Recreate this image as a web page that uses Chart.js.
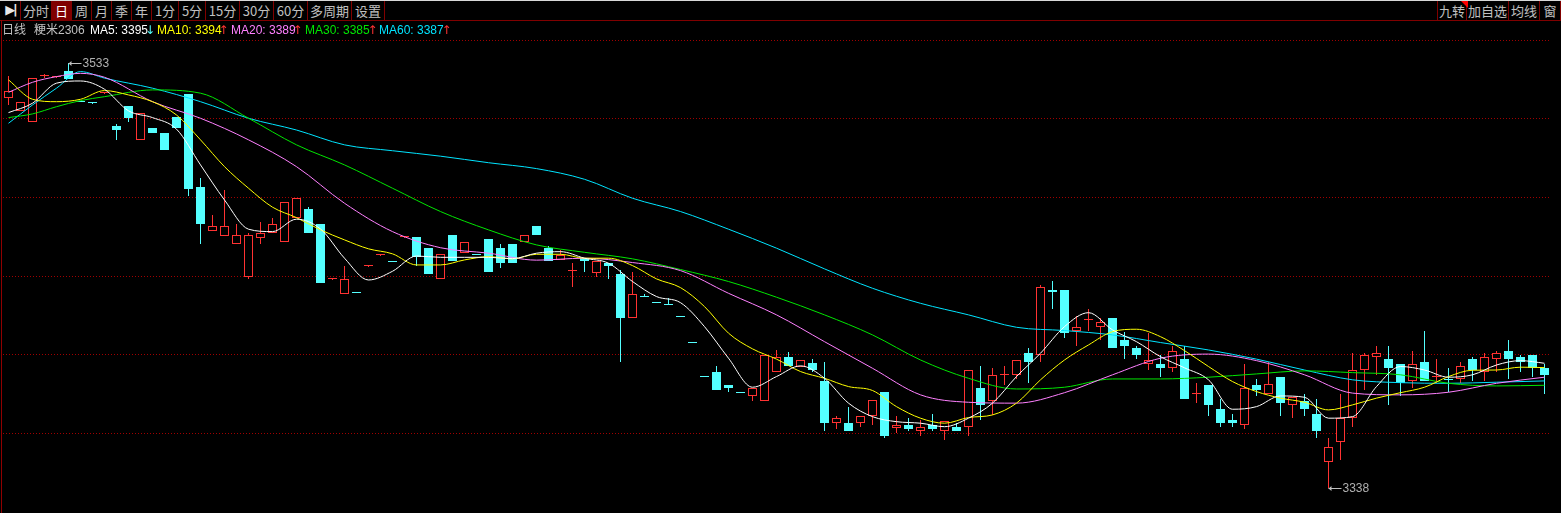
<!doctype html>
<html>

<head>
  <meta charset="utf-8">
  <script src="https://cdn.jsdelivr.net/npm/chart.js@4/dist/chart.umd.js"></script>
  <style>
    html, body { margin: 0; background: #000; overflow: hidden; width: 1561px; height: 513px; }
    canvas { position: absolute; left: 0; top: 0; }
    #topline { position: absolute; left: 0; top: 0; width: 1561px; height: 1px; background: #d8d8d8; }
    #bar { position: absolute; left: 0; top: 20px; width: 1561px; height: 1px; background: #800000; }
    #edge { position: absolute; left: 1px; top: 20px; width: 1px; height: 493px; background: #900000; }
    .btn { position: absolute; top: 1px; height: 19px; box-sizing: border-box; border-right: 1px solid #800000;
           color: #c0c0c0; text-align: center; font: 13px/19px "Noto Sans CJK SC", sans-serif; background: #000; }
    .btn.on { background: #800000; color: #fff; }
    .btn.icon { font: bold 13px/18px "DejaVu Sans", sans-serif; letter-spacing: -2px; color: #e8e8e8; }
    .leg { position: absolute; top: 22px; font: 12px/16px "Liberation Sans", "Noto Sans CJK SC", sans-serif; white-space: nowrap; }
    .leg.arrow { font: 12px/16px "DejaVu Sans", sans-serif; }
    #tri { position: absolute; left: 1461px; top: 1px; width: 0; height: 0; border-top: 7px solid #ff0000; border-left: 7px solid transparent; }
  </style>
</head>

<body>
  <canvas id="canvas" width="1561" height="513"></canvas>
  <div id="topline"></div>
  <div id="bar"></div>
  <div id="edge"></div>
  <div id="tools"></div>
  <div id="tri"></div>
  <div id="legend"></div>
  <script>
    const opens = [3517, 3511, 3506, 3527, 3526.5, 3529.5, 3515.5, 3515, 3519, 3504,
      3513, 3497.5, 3503, 3501, 3508, 3518.5, 3476, 3456, 3453.5, 3450,
      3435, 3452.5, 3455, 3451, 3462, 3466, 3459, 3434, 3427, 3428,
      3440, 3445, 3442, 3453, 3453, 3448, 3434, 3454, 3446, 3445.5,
      3452, 3448, 3450, 3451, 3458, 3448, 3442.5, 3437.5, 3443.5, 3436.5,
      3441, 3436, 3416, 3426, 3423.5, 3422.5, 3417, 3405, 3389.5, 3391,
      3385, 3382, 3380, 3378, 3391, 3398, 3393.5, 3395.5, 3387, 3368,
      3368, 3368, 3371, 3382, 3365.5, 3367, 3364, 3367, 3364, 3366,
      3366, 3384, 3378, 3390, 3390, 3400, 3399, 3429, 3429, 3410,
      3415, 3412, 3416, 3406, 3402, 3395, 3395, 3393, 3397, 3381,
      3385, 3374, 3369, 3367, 3385, 3381, 3389, 3376, 3378, 3372,
      3350, 3359, 3370, 3392, 3398, 3397, 3395, 3387, 3396, 3389,
      3388, 3388, 3397, 3391, 3397, 3401, 3398, 3399, 3393];
    const closes = [3520, 3515, 3526, 3527, 3526.5, 3525.5, 3515, 3514.5, 3519, 3502,
      3507.5, 3510, 3501, 3493, 3503, 3475, 3459, 3458, 3458, 3454,
      3454, 3455, 3459, 3469, 3471, 3455, 3432, 3434, 3434, 3427.5,
      3440, 3445, 3441.5, 3453, 3444, 3436, 3445.5, 3442, 3451, 3445,
      3437, 3441, 3441, 3454, 3454, 3442, 3445, 3437.5, 3442, 3442,
      3440, 3416, 3427, 3425.5, 3423, 3422, 3416.5, 3404.5, 3389, 3383,
      3384, 3381.5, 3384, 3399, 3398, 3394, 3396.5, 3392, 3368, 3370,
      3364, 3371, 3378.5, 3362, 3367, 3365, 3366, 3365, 3368.5, 3364,
      3392, 3376, 3390, 3390, 3396.5, 3396, 3430, 3428, 3409, 3412,
      3415, 3414, 3402, 3403, 3399, 3396.5, 3393, 3401, 3379, 3381,
      3376, 3368, 3368, 3384, 3383, 3385.5, 3377, 3379.5, 3374, 3364,
      3357, 3370, 3392, 3399, 3400, 3393, 3386, 3395, 3387, 3389,
      3387.5, 3394, 3392, 3398, 3400, 3397, 3396, 3393, 3390];
    const highs = [3527, 3515, 3526, 3528, 3526.5, 3533, 3515.5, 3515, 3519, 3505,
      3513, 3510, 3503, 3501, 3508, 3518.5, 3480, 3463, 3474.5, 3459,
      3455, 3460, 3462, 3469, 3471, 3467, 3459, 3434, 3440, 3428,
      3440, 3445, 3442, 3453, 3453, 3448, 3445.5, 3454, 3451, 3445.5,
      3452, 3450, 3450, 3454, 3458, 3449, 3447, 3441, 3443.5, 3442,
      3441, 3438, 3437, 3427, 3423.5, 3425, 3417, 3405, 3389.5, 3394,
      3385, 3382, 3384, 3399, 3401.5, 3400.5, 3396.5, 3397, 3396, 3371,
      3375, 3371, 3378.5, 3382, 3371, 3370, 3369, 3372, 3368.5, 3368,
      3392, 3394, 3393, 3394, 3396.5, 3402, 3431, 3433, 3429, 3417,
      3420, 3416, 3416, 3409.5, 3403, 3409, 3399, 3403, 3403, 3386,
      3385, 3379, 3372, 3395, 3388, 3396, 3389, 3379.5, 3381, 3379,
      3361, 3381, 3400, 3400, 3403, 3403, 3395, 3401, 3410, 3397,
      3393, 3396, 3398, 3400, 3401, 3406, 3399, 3399, 3395];
    const lows = [3513.5, 3511, 3506, 3526, 3526.5, 3525.5, 3515, 3514, 3519, 3497.5,
      3506, 3497.5, 3501, 3493, 3503, 3472, 3450, 3456, 3453.5, 3450,
      3434, 3450, 3455, 3451, 3462, 3455, 3432, 3434, 3427, 3427.5,
      3440, 3445, 3441.5, 3453, 3440, 3436, 3434, 3442, 3446, 3445,
      3437, 3439, 3441, 3451, 3454, 3442, 3442.5, 3430, 3437, 3435,
      3434, 3396, 3416, 3425.5, 3423, 3422, 3416.5, 3404.5, 3389, 3383,
      3382, 3381.5, 3378, 3378, 3391, 3394, 3393.5, 3391, 3364, 3365,
      3364, 3366, 3367, 3361, 3363, 3364, 3362, 3364, 3360, 3364,
      3362, 3369, 3371.5, 3385, 3388, 3386, 3396, 3420, 3407, 3403,
      3410, 3406, 3402, 3397, 3397, 3392, 3389, 3391, 3379, 3377,
      3371, 3366, 3366, 3365, 3380, 3381, 3371, 3370, 3371, 3361,
      3338, 3351, 3366, 3383, 3390, 3376, 3380, 3384, 3387, 3386,
      3382, 3386, 3387, 3387, 3391, 3388, 3391, 3389, 3381];

    // moving averages are read at every 2nd candle (fast ones) or at the candles in slowIdx
    const fastIdx = Array.from({ length: 65 }, (_, k) => k * 2);
    const slowIdx = [0, 2, 4, 6, 8, 12, 16, 20, 24, 28, 32, 36, 40, 44, 48, 52, 56, 60, 64, 68, 72, 76,
      80, 84, 88, 92, 96, 100, 104, 108, 112, 116, 120, 124, 128];
    const ma5 = [3510.2, 3514.5, 3523.7, 3524.7, 3520.9, 3511, 3507.9, 3502.6, 3486.2, 3470.1, 3456.7, 3455.6, 3461.3,
      3456.8, 3443.4, 3433.4, 3437.4, 3444.4, 3443.8, 3443.8, 3443.8, 3443.2, 3445.7, 3446.4, 3443.4, 3441.1, 3432.7,
      3425.8, 3423, 3412, 3397.5, 3384.2, 3389.1, 3394, 3388.3, 3376.9, 3370.7, 3368.4, 3367.7, 3366.1, 3370, 3376.9,
      3389.1, 3399.8, 3412, 3418.4, 3410.5, 3405.1, 3398.2, 3393.1, 3387.6, 3374.1, 3375.3, 3380.2, 3379.6, 3370,
      3370.7, 3384.5, 3393.7, 3392.1, 3388.8, 3389.9, 3394.4, 3396.4, 3395.2];
    const ma10 = [3525.2, 3516.3, 3515.2, 3516.3, 3520.3, 3518.3, 3515.2, 3509.1, 3497.7, 3485.4, 3475.5, 3466.8, 3462,
      3456.4, 3451.8, 3447.7, 3445.4, 3440.3, 3440.3, 3442.6, 3444.1, 3443.1, 3445.2, 3445.2, 3443.4, 3443.4, 3440,
      3433.9, 3429.9, 3421.2, 3409, 3401.8, 3397.1, 3391.4, 3388.3, 3384.5, 3382.7, 3375.3, 3370, 3367.7, 3370.3,
      3371.5, 3376.9, 3387.6, 3396.7, 3403.6, 3409.7, 3410.8, 3407.4, 3401, 3393.7, 3386.8, 3382.2, 3379.2, 3377.3,
      3373.8, 3376.1, 3379.2, 3381.7, 3384.2, 3389.1, 3392, 3392.1, 3393.4, 3393.2];
    const ma20 = [3519.5, 3524.1, 3526.7, 3528.2, 3526.4, 3515.2, 3507.6, 3497.7, 3485.4, 3468.6, 3455.6, 3448.2, 3445.7,
      3442.5, 3443.4, 3441.4, 3437.7, 3427.3, 3417.4, 3405.1, 3392.9, 3380.7, 3377.3, 3376.9, 3381.7, 3389.9, 3397.5,
      3399.4, 3396.4, 3389.9, 3381.5, 3380.7, 3381.9, 3386, 3388.8];
    const ma30 = [3507.9, 3509.6, 3512.9, 3515.7, 3517.5, 3520.6, 3519.1, 3507.6, 3495.4, 3486.2, 3475.5, 3464.8, 3456.4,
      3449.5, 3446.1, 3443.1, 3438.2, 3432.7, 3425.5, 3417.4, 3408.2, 3396.7, 3388.3, 3383.4, 3384.2, 3388, 3388,
      3388.8, 3390.3, 3391.7, 3390.9, 3389.9, 3386, 3384.8, 3385.1];
    const ma60 = [3505.3, 3513.7, 3521.4, 3529, 3526, 3521.4, 3515.2, 3507.6, 3502.2, 3495.4, 3492.7, 3490.2, 3487.2,
      3484.5, 3479.6, 3470.9, 3464.8, 3456.7, 3448, 3438.5, 3429.6, 3422.7, 3417.4, 3411.7, 3410.2, 3408.2, 3404.7,
      3401.3, 3397.1, 3392.1, 3387.6, 3386.3, 3386, 3386.5, 3387.1];

    const gridTicks = [3543.5, 3507.5, 3471.3, 3435.1, 3399, 3362.8];
    const labels = opens.map((_, i) => i + 1);

    const RED = '#ff3232';
    const CYAN = '#54ffff';
    const isUp = (i) => closes[i] >= opens[i];
    const place = (idx, vals) => {
      const out = new Array(labels.length).fill(null);
      idx.forEach((p, k) => { out[p] = vals[k]; });
      return out;
    };
    const maLine = (label, idx, vals, color, order) => ({
      type: 'line', label, data: place(idx, vals), borderColor: color, borderWidth: 1,
      pointRadius: 0, cubicInterpolationMode: 'monotone', spanGaps: true, order
    });

    // snap candles to whole pixels so the 1px outlines stay sharp
    const snapBars = {
      id: 'snapBars',
      afterDatasetsUpdate(chart) {
        chart.getSortedVisibleDatasetMetas().forEach((meta) => {
          if (meta.type !== 'bar') return;
          meta.data.forEach((el) => {
            el.y = Math.round(el.y);
            el.base = Math.round(el.base);
            if (el.y === el.base) el.base += 1;
          });
        });
      }
    };

    // arrows + text at the highest and lowest price
    const extremes = {
      id: 'extremes',
      afterDraw(chart) {
        const { ctx, scales: { x, y } } = chart;
        const hi = highs.indexOf(Math.max(...highs));
        const lo = lows.indexOf(Math.min(...lows));
        [[hi, highs[hi]], [lo, lows[lo]]].forEach(([i, v]) => {
          const px = Math.floor(x.getPixelForValue(i)) + 0.5;
          const py = Math.round(y.getPixelForValue(v)) + 0.5;
          ctx.save();
          ctx.strokeStyle = ctx.fillStyle = '#c0c0c0';
          ctx.lineWidth = 1;
          ctx.beginPath();
          ctx.moveTo(px, py);
          ctx.lineTo(px + 13, py);
          ctx.stroke();
          ctx.beginPath();
          ctx.moveTo(px, py);
          ctx.lineTo(px + 3, py - 2.5);
          ctx.lineTo(px + 3, py + 2.5);
          ctx.fill();
          ctx.font = '12px "Liberation Sans"';
          ctx.textBaseline = 'middle';
          ctx.fillStyle = '#b0b0b0';
          ctx.fillText(String(v), px + 14, py);
          ctx.restore();
        });
      }
    };

    new Chart(document.getElementById('canvas').getContext('2d'), {
      type: 'bar',
      data: {
        labels,
        datasets: [
          maLine('MA5', fastIdx, ma5, '#ffffff', 1),
          maLine('MA10', fastIdx, ma10, '#ffff00', 2),
          maLine('MA20', slowIdx, ma20, '#ff80ff', 3),
          maLine('MA30', slowIdx, ma30, '#00e600', 4),
          maLine('MA60', slowIdx, ma60, '#00e4ff', 5),
          {
            label: 'body',
            data: opens.map((o, i) => [o, closes[i]]),
            backgroundColor: labels.map((_, i) => (isUp(i) ? '#000000' : CYAN)),
            borderColor: labels.map((_, i) => (isUp(i) ? RED : CYAN)),
            borderWidth: 1, borderSkipped: false, inflateAmount: 0,
            barThickness: 9, minBarLength: 1, grouped: false, order: 6
          },
          {
            label: 'wick',
            data: lows.map((l, i) => [l, highs[i]]),
            backgroundColor: labels.map((_, i) => (isUp(i) ? RED : CYAN)),
            borderWidth: 0, inflateAmount: 0,
            barThickness: 1, grouped: false, order: 7
          }
        ]
      },
      options: {
        responsive: false,
        animation: false,
        layout: { padding: { left: 2.5, right: 10.5, top: 40, bottom: 0 } },
        plugins: { legend: { display: false }, tooltip: { enabled: false } },
        scales: {
          x: { display: false, offset: true, grid: { display: false } },
          y: {
            min: 3326.5,
            max: 3543.5,
            afterBuildTicks: (axis) => { axis.ticks = gridTicks.map((value) => ({ value })); },
            ticks: { display: false },
            border: { display: false, dash: [1, 2] },
            grid: { color: '#a00000', lineWidth: 1, drawTicks: false }
          }
        }
      },
      plugins: [snapBars, extremes]
    });

    // toolbar + legend row are plain text on top of the canvas
    const toolItems = [['▶|', 1, 20], ['分时', 21, 31], ['日', 52, 20, 1], ['周', 72, 20], ['月', 92, 20], ['季', 112, 20], ['年', 132, 20],
      ['1分', 152, 27], ['5分', 179, 27], ['15分', 206, 34], ['30分', 240, 34], ['60分', 274, 34], ['多周期', 308, 44], ['设置', 352, 33],
      ['九转', 1437, 30], ['加自选', 1467, 42], ['均线', 1509, 31], ['窗', 1540, 21]];
    const tools = document.getElementById('tools');
    toolItems.forEach(([text, left, width, on], k) => {
      const d = document.createElement('div');
      d.className = 'btn' + (on ? ' on' : '') + (k === 0 ? ' icon' : '');
      d.textContent = text;
      d.style.left = left + 'px';
      d.style.width = width + 'px';
      if (text === '九转') d.style.borderLeft = '1px solid #800000';
      tools.appendChild(d);
    });

    const legendItems = [['日线', 2, '#c0c0c0'], ['粳米2306', 34, '#c0c0c0'], ['MA5: 3395', 90, '#ffffff'], ['↓', 145, '#54ffff', 1],
      ['MA10: 3394', 157, '#ffff00'], ['↑', 218.5, RED, 1], ['MA20: 3389', 231, '#ff80ff'], ['↑', 292.5, RED, 1],
      ['MA30: 3385', 305, '#00e600'], ['↑', 367.5, RED, 1], ['MA60: 3387', 379, '#00e4ff'], ['↑', 441.5, RED, 1]];
    const legend = document.getElementById('legend');
    legendItems.forEach(([text, left, color, arrow]) => {
      const s = document.createElement('span');
      s.className = 'leg' + (arrow ? ' arrow' : '');
      s.textContent = text;
      s.style.left = left + 'px';
      s.style.color = color;
      legend.appendChild(s);
    });
  </script>
</body>

</html>
